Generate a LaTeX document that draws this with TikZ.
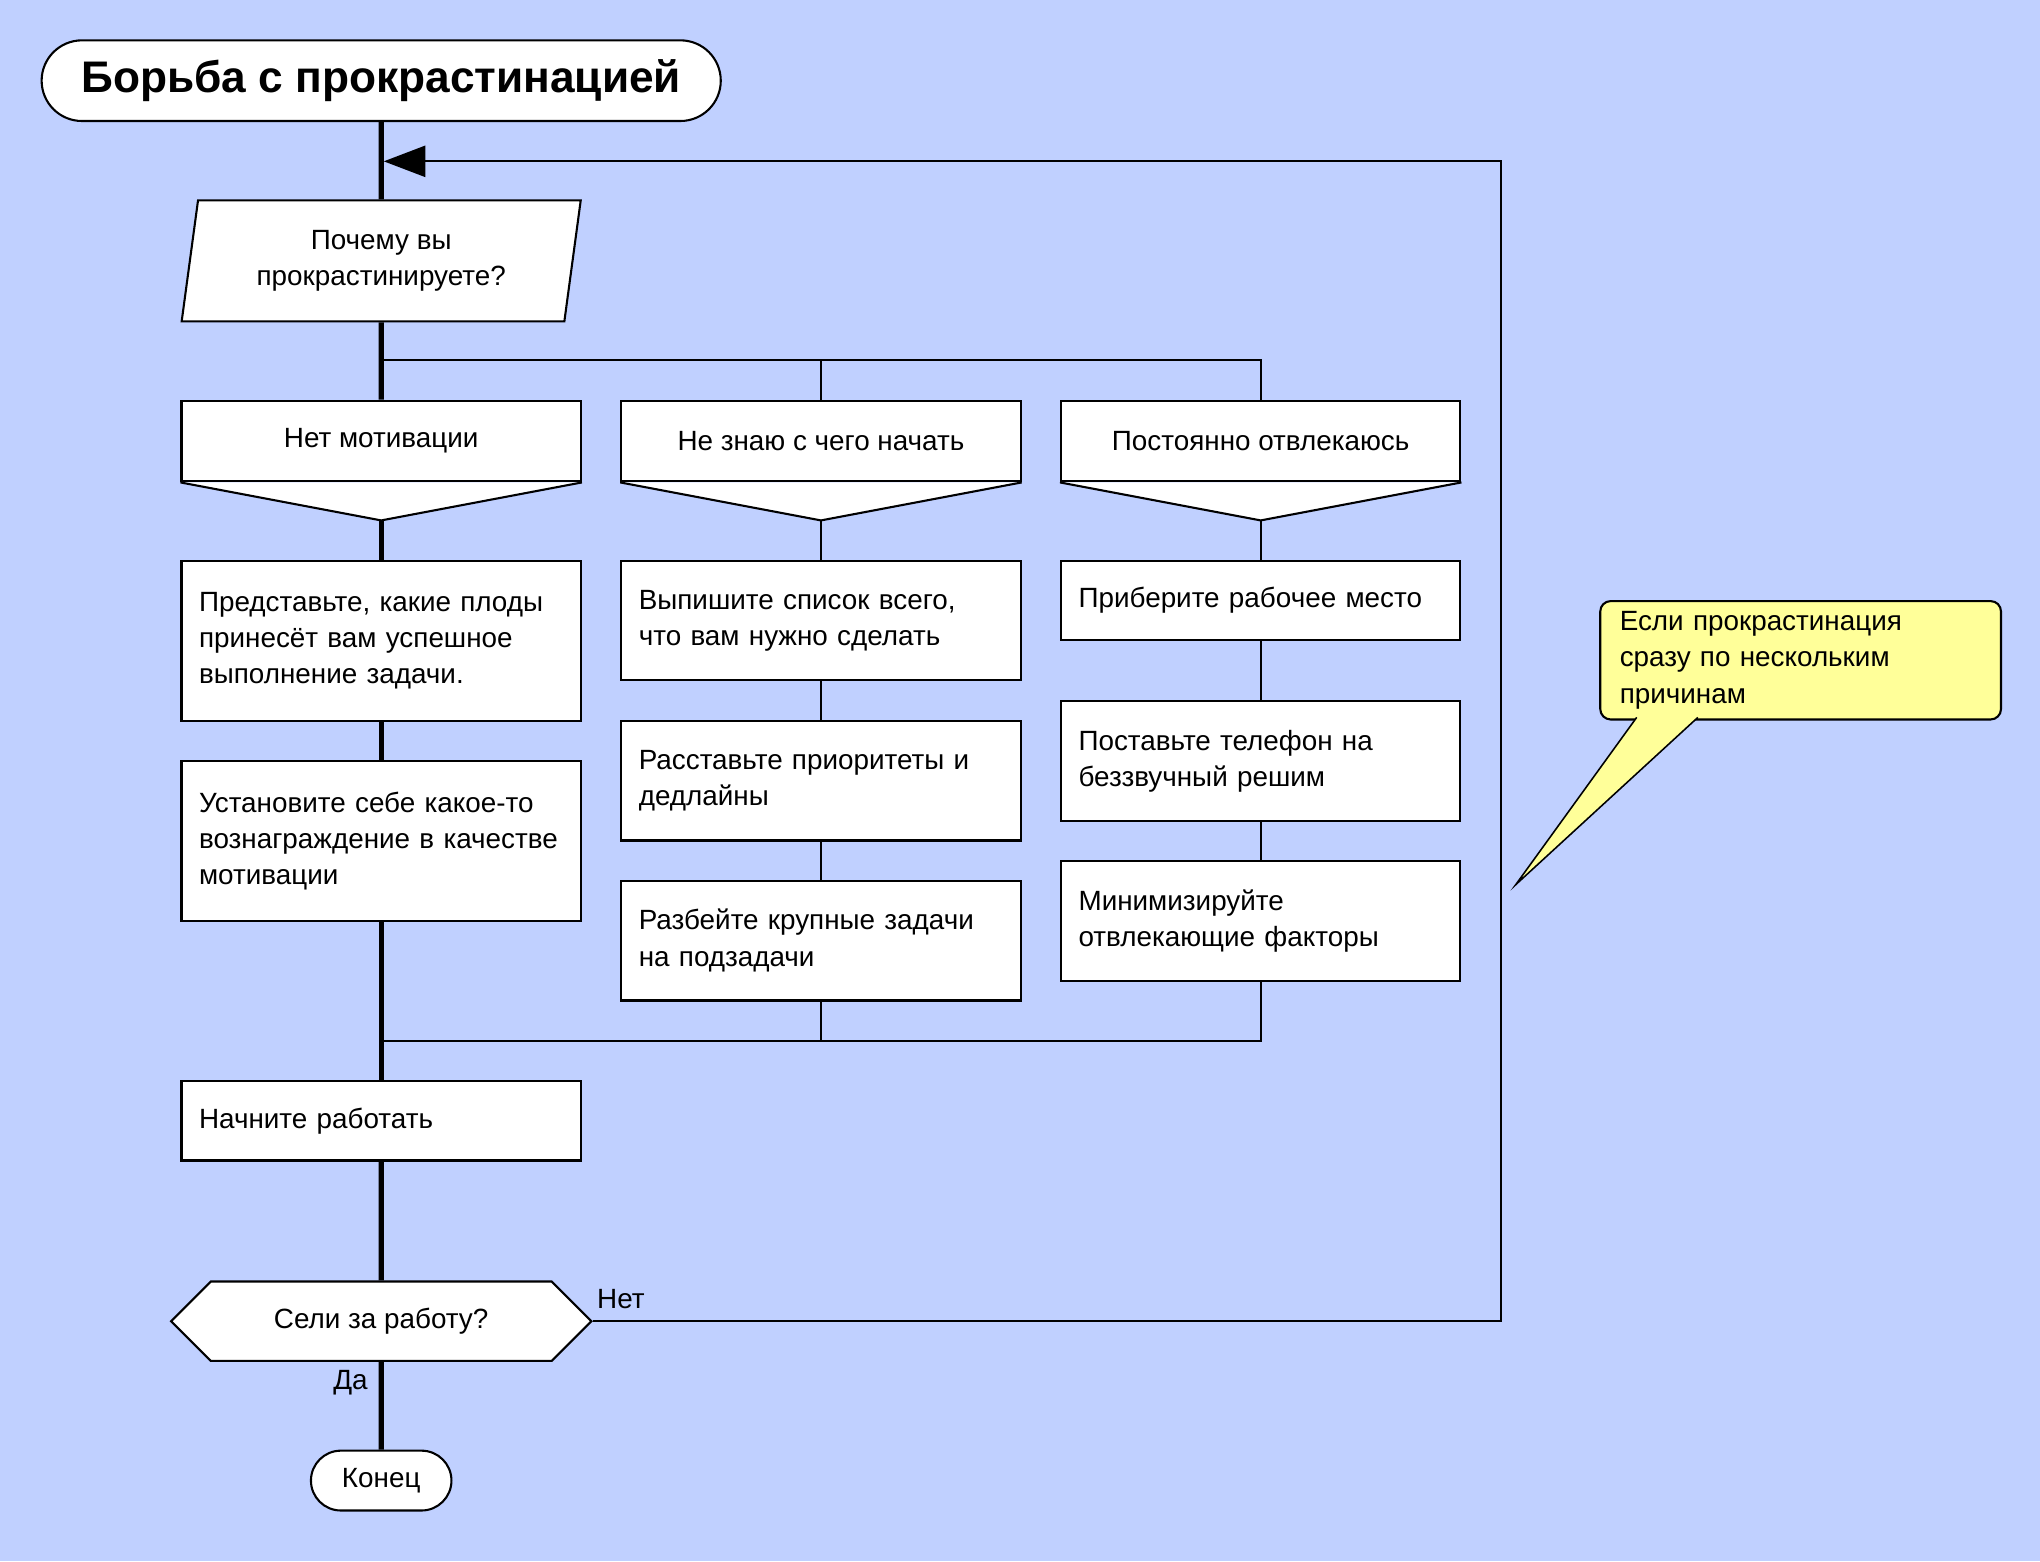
\documentclass[tikz,border=0pt]{standalone}
\usepackage{fontspec}
\setmainfont{Liberation Sans}
\usepackage{tikz}
\usetikzlibrary{arrows.meta,positioning,shapes.geometric,shapes.misc,shapes.symbols}
\definecolor{bgblue}{RGB}{192,208,255}
\definecolor{noteyellow}{RGB}{255,255,153}

\begin{document}
\begin{tikzpicture}[x=0.5pt,y=-0.5pt,font=\fontsize{10.7}{14}\selectfont]
\tikzstyle{blk} = [rectangle,draw=black,fill=white,line width=0.8pt,minimum width=153.5pt,text width=140pt,inner xsep=6.75pt,align=left]
\tikzstyle{hdr} = [rectangle,draw=black,fill=white,line width=0.8pt,minimum width=153.5pt,minimum height=31pt,align=center]
\tikzstyle{term} = [rounded rectangle,draw=black,fill=white,line width=0.8pt,inner sep=0pt]
\tikzstyle{spine} = [line width=2pt]
\tikzstyle{wire} = [line width=0.75pt]
    \fill[bgblue] (0,0) rectangle (1568,1200);

    \node[term,minimum width=261pt,minimum height=31pt,font=\fontsize{17}{20}\selectfont\bfseries] (title) at (293,62) {Борьба с прокрастинацией};
    \node[trapezium,trapezium left angle=81.4,trapezium right angle=98.6,trapezium stretches=true,draw=black,fill=white,line width=0.8pt,minimum width=153.5pt,minimum height=46.5pt,align=center] (why) at (293,200.5) {Почему вы\\прокрастинируете?};

    \node[hdr] (h1) at (293,339) {Нет мотивации};
    \node[hdr] (h2) at (631,339) {Не знаю с чего начать};
    \node[hdr] (h3) at (969,339) {Постоянно отвлекаюсь};
    \coordinate (t1) at (293,400);
    \coordinate (t2) at (631,400);
    \coordinate (t3) at (969,400);
    \filldraw[fill=white,line width=0.8pt] (h1.south west) -- (t1) -- (h1.south east);
    \filldraw[fill=white,line width=0.8pt] (h2.south west) -- (t2) -- (h2.south east);
    \filldraw[fill=white,line width=0.8pt] (h3.south west) -- (t3) -- (h3.south east);

    \node[blk,minimum height=61.5pt] (a1) at (293,492.5) {Представьте, какие плоды\\принесёт вам успешное\\выполнение задачи.};
    \node[blk,minimum height=61.5pt] (a2) at (293,646.5) {Установите себе какое-то\\вознаграждение в качестве\\мотивации};

    \node[blk,minimum height=46pt] (b1) at (631,477) {Выпишите список всего,\\что вам нужно сделать};
    \node[blk,minimum height=46pt] (b2) at (631,600) {Расставьте приоритеты и\\дедлайны};
    \node[blk,minimum height=46pt] (b3) at (631,723) {Разбейте крупные задачи\\на подзадачи};

    \node[blk,minimum height=30.5pt] (c1) at (969,461.5) {Приберите рабочее место};
    \node[blk,minimum height=46pt] (c2) at (969,585) {Поставьте телефон на\\беззвучный решим};
    \node[blk,minimum height=46pt] (c3) at (969,708) {Минимизируйте\\отвлекающие факторы};

    \node[blk,minimum height=30.5pt] (go) at (293,861.5) {Начните работать};
    \node[signal,signal to=east and west,signal pointer angle=90,draw=black,fill=white,line width=0.8pt,minimum width=161.5pt,minimum height=30.5pt] (sat) at (293,1015.5) {Сели за работу?};
    \node[term,minimum width=54pt,minimum height=23pt] (fin) at (293,1138) {Конец};

    % spine
    \draw[spine] (title) -- (why);
    \draw[spine] (why) -- (h1);
    \draw[spine] (t1) -- (a1);
    \draw[spine] (a1) -- (a2);
    \draw[spine] (a2) -- (go);
    \draw[spine] (go) -- (sat);
    \draw[spine] (sat) -- (fin);

    % branches
    \coordinate (split) at (293,277);
    \coordinate (merge) at (293,800);
    \draw[wire] (h3.north) |- (split);
    \draw[wire] (h2.north) -- (h2.north |- split);
    \draw[wire] (t2) -- (b1);
    \draw[wire] (b1) -- (b2);
    \draw[wire] (b2) -- (b3);
    \draw[wire] (t3) -- (c1);
    \draw[wire] (c1) -- (c2);
    \draw[wire] (c2) -- (c3);
    \draw[wire] (c3.south) |- (merge);
    \draw[wire] (b3.south) -- (b3.south |- merge);

    % loop back
    \coordinate (rc) at (1154,1015.5);
    \coordinate (back) at (295,124);
    \draw[wire,-{Triangle[length=16pt,width=12pt]}] (sat.east) -- (rc) |- (back);
    \node[anchor=base west,inner sep=0pt] (no) at ([xshift=1.5pt,yshift=4.75pt]sat.east) {Нет};
    \node[anchor=base east,inner sep=0pt] (yes) at ([xshift=-5pt,yshift=-10.5pt]sat.south) {Да};

    % note
    \node[draw=black,fill=noteyellow,rounded corners=4pt,line width=0.8pt,minimum width=154pt,minimum height=45.5pt,text width=139pt,inner xsep=7.5pt,align=left] (note) at (1384,507.5) {Если прокрастинация\\сразу по нескольким\\причинам};
    \coordinate (ntip) at (1165,680);
    \fill[noteyellow] ([xshift=-63pt,yshift=1.2pt]note.south) -- (ntip) -- ([xshift=-39.5pt,yshift=1.2pt]note.south) -- cycle;
    \draw[line width=0.6pt] ([xshift=-63pt,yshift=1.2pt]note.south) -- (ntip) -- ([xshift=-39.5pt,yshift=1.2pt]note.south);
\end{tikzpicture}
\end{document}
